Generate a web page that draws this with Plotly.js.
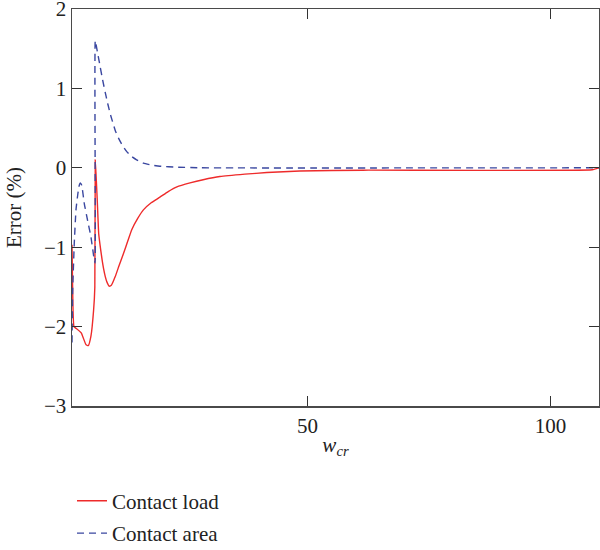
<!DOCTYPE html>
<html>
<head>
<meta charset="utf-8">
<script src="https://cdn.plot.ly/plotly-3.0.1.min.js"></script>
<style>html,body{margin:0;padding:0;background:#fff;}#chart{width:600px;height:550px;}</style>
</head>
<body>
<div id="chart"></div>
<script>
// Contact load error (%) vs w_cr
const loadX = [1.5, 1.6, 1.9, 2.3, 3.4, 4.4, 4.85, 5.4, 5.95, 6.2, 6.29, 6.5, 6.7, 7.0, 7.4, 7.7, 8.0, 8.35, 8.7, 9.16, 9.6, 10.4, 11.2, 12.1, 13.0, 13.8, 15.0, 16.2, 17.8, 19.6, 21.3, 23.1, 25.8, 28.5, 31.95, 37.1, 41.6, 48.4, 61.4, 108.6, 110];
const loadY = [-0.97, -1.4, -2.0, -2.02, -2.08, -2.23, -2.24, -2.12, -1.79, -1.5, 0.1, -0.15, -0.41, -0.83, -1.03, -1.16, -1.27, -1.37, -1.44, -1.49, -1.48, -1.37, -1.23, -1.08, -0.92, -0.78, -0.64, -0.53, -0.44, -0.37, -0.3, -0.24, -0.19, -0.15, -0.11, -0.08, -0.06, -0.04, -0.03, -0.025, 0.0];
// Contact area error (%) vs w_cr
const areaX = [1.5, 1.62, 1.97, 2.32, 2.7, 3.0, 3.2, 3.5, 4.03, 4.7, 5.4, 6.08, 6.25, 6.29, 6.7, 7.31, 7.8, 8.34, 8.85, 9.37, 10.4, 11.1, 11.8, 12.7, 13.6, 14.8, 16.2, 17.8, 19.6, 23.1, 27.9, 110];
const areaY = [-2.2, -1.58, -0.95, -0.53, -0.33, -0.22, -0.19, -0.22, -0.45, -0.66, -0.87, -1.16, -1.2, 1.6, 1.47, 1.27, 1.11, 0.95, 0.81, 0.68, 0.47, 0.37, 0.29, 0.21, 0.15, 0.1, 0.06, 0.035, 0.02, 0.008, 0.0, 0.0];
const seriesNames = ["Contact load", "Contact area"];

const FONT = "Liberation Serif, Times New Roman, serif";

const traces = [
  {x: loadX, y: loadY, name: seriesNames[0], type: "scatter", mode: "lines",
   legendgroup: "a", line: {color: "#ee2b2b", width: 1.4, shape: "spline", smoothing: 0.4}},
  {x: areaX, y: areaY, name: seriesNames[1], type: "scatter", mode: "lines",
   legendgroup: "b", line: {color: "#3a47a0", width: 1.4, dash: "7px,5px", shape: "spline", smoothing: 0.4}}
];

const axisCommon = {
  showgrid: false, zeroline: false, showline: true, linecolor: "#4a4a4a", linewidth: 1.5,
  mirror: "ticks", ticks: "inside", ticklen: 10, tickwidth: 1.3, tickcolor: "#333",
  ticklabeloverflow: "allow",
  tickfont: {family: FONT, size: 21, color: "#222"}
};

const layout = {
  width: 600, height: 550,
  margin: {l: 72, r: 1, t: 9, b: 144, autoexpand: false},
  paper_bgcolor: "#fff", plot_bgcolor: "#fff",
  font: {family: FONT, size: 21, color: "#222"},
  xaxis: Object.assign({}, axisCommon, {
    range: [1.5, 110], tickvals: [50, 100], ticktext: ["50", "100"], automargin: false,
    title: {text: "<i>w</i><sub><i>cr</i></sub>", font: {family: FONT, size: 21, color: "#222"}, standoff: 0}
  }),
  yaxis: Object.assign({}, axisCommon, {
    range: [-3, 2], tickvals: [-3, -2, -1, 0, 1, 2], automargin: false,
    title: {text: "Error (%)", font: {family: FONT, size: 21, color: "#222"}, standoff: 16}
  }),
  showlegend: true,
  legend: {
    x: 0.0, xanchor: "left", y: -0.188, yanchor: "top",
    traceorder: "grouped", tracegroupgap: 2,
    font: {family: FONT, size: 21, color: "#222"},
    bgcolor: "rgba(0,0,0,0)"
  }
};

Plotly.newPlot("chart", traces, layout, {displayModeBar: false, staticPlot: true});
</script>
</body>
</html>
